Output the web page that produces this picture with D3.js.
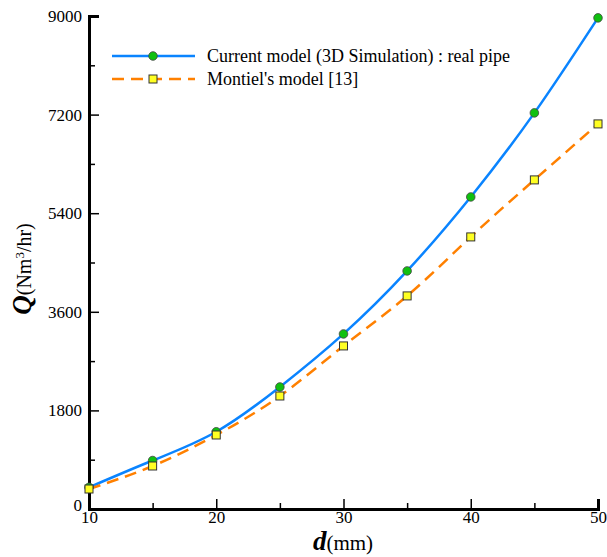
<!DOCTYPE html>
<html>
<head>
<meta charset="utf-8">
<script src="https://cdn.jsdelivr.net/npm/d3@7"></script>
<style>
  body { margin: 0; background: #fff; }
</style>
</head>
<body>
<svg id="chart" width="607" height="557"></svg>
<script>
(function() {
  'use strict';

  // data
  var diameters = [10, 15, 20, 25, 30, 35, 40, 45, 50];
  var currentModel = [395, 885, 1410, 2228, 3196, 4346, 5697, 7231, 8966];
  var montielModel = [365, 785, 1351, 2063, 2977, 3890, 4967, 6008, 7030];
  var xTicks = [10, 20, 30, 40, 50];
  var xMinor = [15, 25, 35, 45];
  var yTicks = [0, 1800, 3600, 5400, 7200, 9000];
  var yMinor = [900, 2700, 4500, 6300, 8100];
  var seriesNames = ['Current model (3D Simulation) : real pipe', "Montiel's model [13]"];

  var serif = '"Liberation Serif", "Times New Roman", serif';
  var svg = d3.select('#chart').style('font-family', serif);
  var left = 89, right = 598, top = 16, bottom = 509;

  var x = d3.scaleLinear().domain([10, 50]).range([left, right]);
  var y = d3.scaleLinear().domain([0, 9000]).range([bottom, top]);

  // axes, ticks pointing inward
  svg.append('g').attr('transform', 'translate(0,' + bottom + ')')
    .call(d3.axisBottom(x).tickValues(xTicks).tickSize(-10).tickPadding(2).tickFormat(d3.format('d')));
  svg.append('g').attr('transform', 'translate(0,' + bottom + ')')
    .call(d3.axisBottom(x).tickValues(xMinor).tickSize(-6).tickFormat(''))
    .call(function(g) { g.select('.domain').remove(); });
  var yAxis = svg.append('g').attr('transform', 'translate(' + left + ',0)')
    .call(d3.axisLeft(y).tickValues(yTicks).tickSize(-10).tickPadding(7).tickFormat(d3.format('d')));
  svg.append('g').attr('transform', 'translate(' + left + ',0)')
    .call(d3.axisLeft(y).tickValues(yMinor).tickSize(-6).tickFormat(''))
    .call(function(g) { g.select('.domain').remove(); });

  svg.selectAll('g').attr('font-family', null);
  svg.selectAll('.domain').attr('stroke', '#000').attr('stroke-width', 3);
  svg.selectAll('.tick line').attr('stroke', '#000').attr('stroke-width', 1.5);
  svg.selectAll('.tick text').attr('font-size', 17).attr('fill', '#000').style('font-family', serif);
  yAxis.selectAll('.tick text').filter(function(d) { return d === 0; }).attr('dy', '0.1em');

  // axis titles
  svg.append('text').attr('x', 343).attr('y', 550).attr('text-anchor', 'middle')
    .attr('font-size', 21).style('font-family', serif)
    .call(function(t) {
      t.append('tspan').attr('font-weight', 'bold').attr('font-style', 'italic').attr('font-size', 27).text('d');
      t.append('tspan').text('(mm)');
    });
  svg.append('text').attr('transform', 'translate(31,269) rotate(-90)').attr('text-anchor', 'middle')
    .attr('font-size', 20).style('font-family', serif)
    .call(function(t) {
      t.append('tspan').attr('font-weight', 'bold').attr('font-style', 'italic').attr('font-size', 27).text('Q');
      t.append('tspan').text('(Nm');
      t.append('tspan').attr('font-size', 13).attr('dy', '-7').text('3');
      t.append('tspan').attr('dy', '7').text('/hr)');
    });

  var line = function(vals) {
    return d3.line().x(function(d, i) { return x(diameters[i]); })
      .y(function(d) { return y(d); }).curve(d3.curveNatural)(vals);
  };

  svg.append('path').attr('d', line(currentModel)).attr('fill', 'none')
    .attr('stroke', '#0a84ff').attr('stroke-width', 2.5);
  svg.append('path').attr('d', line(montielModel)).attr('fill', 'none')
    .attr('stroke', '#ff8000').attr('stroke-width', 2.5).attr('stroke-dasharray', '12,7');

  svg.append('g').selectAll('circle').data(currentModel).enter().append('circle')
    .attr('cx', function(d, i) { return x(diameters[i]); })
    .attr('cy', function(d) { return y(d); })
    .attr('r', 4.3).attr('fill', '#10c010').attr('stroke', '#444').attr('stroke-width', 0.8);
  svg.append('g').selectAll('rect').data(montielModel).enter().append('rect')
    .attr('x', function(d, i) { return x(diameters[i]) - 4; })
    .attr('y', function(d) { return y(d) - 4; })
    .attr('width', 8).attr('height', 8)
    .attr('fill', '#ffff22').attr('stroke', '#333').attr('stroke-width', 1);

  // legend
  var lg = svg.append('g');
  lg.append('line').attr('x1', 112).attr('x2', 195).attr('y1', 56).attr('y2', 56)
    .attr('stroke', '#0a84ff').attr('stroke-width', 2.5);
  lg.append('circle').attr('cx', 153).attr('cy', 56).attr('r', 4.3)
    .attr('fill', '#10c010').attr('stroke', '#444').attr('stroke-width', 0.8);
  lg.append('line').attr('x1', 112).attr('x2', 195).attr('y1', 79).attr('y2', 79)
    .attr('stroke', '#ff8000').attr('stroke-width', 2.5).attr('stroke-dasharray', '12,7');
  lg.append('rect').attr('x', 149).attr('y', 75).attr('width', 8).attr('height', 8)
    .attr('fill', '#ffff22').attr('stroke', '#333').attr('stroke-width', 1);
  lg.selectAll('text').data(seriesNames).enter().append('text')
    .attr('x', 207).attr('y', function(d, i) { return 62 + i * 23; })
    .attr('font-size', 18).style('font-family', serif).text(function(d) { return d; });
})();
</script>
</body>
</html>
